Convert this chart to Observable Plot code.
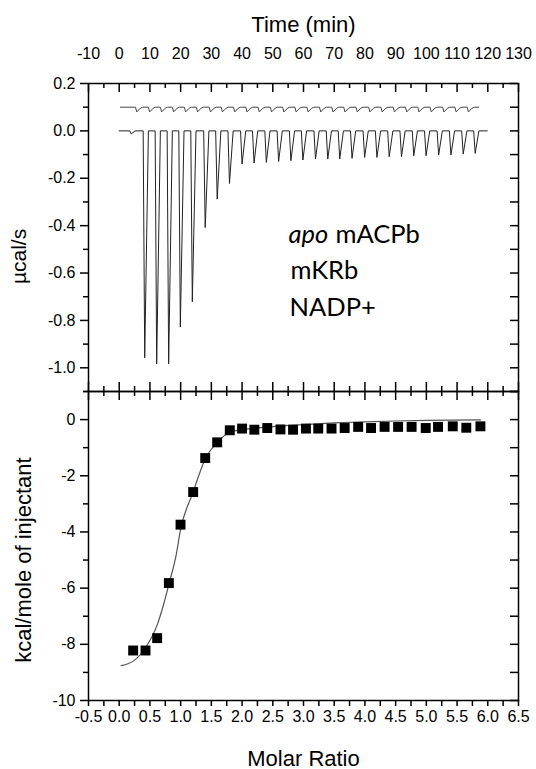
<!DOCTYPE html>
<html>
<head>
<meta charset="utf-8">
<script src="https://cdn.jsdelivr.net/npm/d3@7"></script>
<script src="https://cdn.jsdelivr.net/npm/@observablehq/plot@0.6"></script>
<style>
  html, body { margin: 0; padding: 0; background: white; }
  #chart { position: relative; width: 536px; height: 769px; }
  #chart svg { position: absolute; left: 0; }
</style>
</head>
<body>
<div id="chart"></div>
<script>
// ---------- Data ----------
// Top panel: raw titration trace (µcal/s vs time, min)
const injTimes = [3.45, 7.8, 11.7, 15.6, 19.4, 23.3, 27.5, 31.4, 35.4, 39.5, 43.4, 47.4, 51.4, 55.4, 59.3,
  63.4, 67.4, 71.3, 75.3, 79.4, 83.4, 87.4, 91.4, 95.4, 99.4, 103.5, 107.5, 111.5, 115.4];
const peakDepths = [-0.013, -0.958, -0.983, -0.983, -0.828, -0.721, -0.408, -0.288, -0.222, -0.14, -0.136,
  -0.133, -0.129, -0.126, -0.123, -0.119, -0.119, -0.119, -0.116, -0.112, -0.112, -0.109, -0.109, -0.105,
  -0.105, -0.102, -0.102, -0.098, -0.095];
const traceStart = 0, traceEnd = 119.8;

// control (offset) trace
const controlTimes = [5.3, 9.5, 13.4, 17.3, 21.2, 25.1, 29.3, 33.2, 37.2, 41.2, 45.2, 49.2, 53.2, 57.2, 61.1,
  65.2, 69.2, 73.1, 77.1, 81.2, 85.2, 89.2, 93.2, 97.2, 101.2, 105.3, 109.3, 113.3];
const controlLevel = 0.100;
const controlDip = 0.080;
const controlStart = 0.4, controlEnd = 117;

// Bottom panel: integrated heats
const molarRatio = [0.227, 0.428, 0.618, 0.808, 0.998, 1.204, 1.40, 1.595, 1.80, 2.0, 2.20, 2.41, 2.625, 2.83,
  3.04, 3.24, 3.456, 3.67, 3.89, 4.10, 4.32, 4.54, 4.76, 4.99, 5.19, 5.43, 5.65, 5.88];
const heat = [-8.22, -8.22, -7.78, -5.82, -3.74, -2.58, -1.37, -0.81, -0.38, -0.32, -0.36, -0.30, -0.35, -0.36,
  -0.32, -0.32, -0.32, -0.30, -0.26, -0.30, -0.26, -0.26, -0.26, -0.30, -0.26, -0.24, -0.29, -0.24];

// fitted curve
const fitRatio = [0.03, 0.24, 0.45, 0.62, 0.72, 0.81, 0.92, 1.0, 1.2, 1.4, 1.6, 1.8, 2.0, 2.4, 3.0, 3.5, 4.0, 4.5, 5.0, 5.88];
const fitHeat = [-8.76, -8.58, -8.05, -7.3, -6.6, -5.85, -4.9, -3.9, -2.6, -1.4, -0.8, -0.45, -0.36, -0.27, -0.18,
  -0.12, -0.08, -0.05, -0.03, -0.01];

// Tick values / labels
const timeMajor = [-10, 0, 10, 20, 30, 40, 50, 60, 70, 80, 90, 100, 110, 120, 130];
const timeMinor = [-5, 5, 15, 25, 35, 45, 55, 65, 75, 85, 95, 105, 115, 125];
const fluxMajor = [-1.0, -0.8, -0.6, -0.4, -0.2, 0.0, 0.2];
const fluxMinor = [-1.1, -0.9, -0.7, -0.5, -0.3, -0.1, 0.1];
const ratioMajor = [-0.5, 0.0, 0.5, 1.0, 1.5, 2.0, 2.5, 3.0, 3.5, 4.0, 4.5, 5.0, 5.5, 6.0, 6.5];
const ratioMinor = [-0.25, 0.25, 0.75, 1.25, 1.75, 2.25, 2.75, 3.25, 3.75, 4.25, 4.75, 5.25, 5.75, 6.25];
const heatMajor = [-10, -8, -6, -4, -2, 0];
const heatMinor = [-9, -7, -5, -3, -1, 1];

const topTitle = "Time (min)";
const topYLabel = "µcal/s";
const bottomXLabel = "Molar Ratio";
const bottomYLabel = "kcal/mole of injectant";

// ---------- Build line tables ----------
const lowerTrace = [{t: traceStart, v: 0}];
injTimes.forEach((t, i) => {
  lowerTrace.push({t, v: 0}, {t: t + 0.5, v: peakDepths[i]}, {t: t + 1.7, v: 0});
});
lowerTrace.push({t: traceEnd, v: 0});

const upperTrace = [{t: controlStart, v: controlLevel}];
controlTimes.forEach(t => {
  upperTrace.push({t, v: controlLevel}, {t: t + 0.4, v: controlDip}, {t: t + 1.6, v: controlLevel - 0.004}, {t: t + 2.3, v: controlLevel});
});
upperTrace.push({t: controlEnd, v: controlLevel});

const points = molarRatio.map((r, i) => ({r, h: heat[i]}));
const fit = fitRatio.map((r, i) => ({r, h: fitHeat[i]}));

const FONT = "'Liberation Sans', Arial, Helvetica, sans-serif";
const W = 536, ML = 88, MR = 18;
const innerW = W - ML - MR;

// ---------- Top panel ----------
const topH = 392, topMT = 83, topMB = 1;
const topInner = topH - topMT - topMB;
const topPlot = Plot.plot({
  width: W, height: topH,
  marginTop: topMT, marginBottom: topMB, marginLeft: ML, marginRight: MR,
  x: {domain: [-10, 130], label: null},
  y: {domain: [-1.1, 0.2], label: null},
  style: {background: "transparent", fontFamily: FONT, color: "black", overflow: "visible"},
  marks: [
    Plot.line(upperTrace, {x: "t", y: "v", stroke: "#444", strokeWidth: 1}),
    Plot.line(lowerTrace, {x: "t", y: "v", stroke: "#222", strokeWidth: 1}),
    // top axis labels (ticks drawn inward separately)
    Plot.axisX({anchor: "top", ticks: timeMajor, tickSize: 0, tickPadding: 25, fontSize: 16,
      tickFormat: d => String(d), label: null}),
    Plot.tickX(timeMajor, {x: d => d, insetBottom: topInner - 9, stroke: "black", strokeWidth: 1.5}),
    Plot.tickX(timeMinor, {x: d => d, insetBottom: topInner - 5, stroke: "black", strokeWidth: 1.5}),
    Plot.tickX(timeMajor, {x: d => d, insetTop: topInner - 9, stroke: "black", strokeWidth: 1.5}),
    Plot.tickX(timeMinor, {x: d => d, insetTop: topInner - 5, stroke: "black", strokeWidth: 1.5}),
    // left axis
    Plot.axisY({anchor: "left", ticks: fluxMajor, tickSize: 8, tickPadding: 5, fontSize: 16, strokeWidth: 1.5,
      tickFormat: d => d.toFixed(1), label: null}),
    Plot.axisY({anchor: "left", ticks: fluxMinor, tickSize: 5, strokeWidth: 1.5, tickFormat: () => "", label: null}),
    // right inward ticks
    Plot.tickY(fluxMajor, {y: d => d, insetLeft: innerW - 8, stroke: "black", strokeWidth: 1.5}),
    Plot.tickY(fluxMinor, {y: d => d, insetLeft: innerW - 8, stroke: "black", strokeWidth: 1.5}),
    Plot.frame({stroke: "black", strokeWidth: 1.5}),
    // titles
    Plot.text([topTitle], {frameAnchor: "top", dy: -52, lineAnchor: "bottom", fontSize: 22, fill: "black"}),
    Plot.text([topYLabel], {frameAnchor: "left", y: [-0.53], dx: -63, rotate: -90, lineAnchor: "bottom",
      textAnchor: "middle", fontSize: 21, fill: "black"}),
    // annotation
    Plot.text(["apo"], {frameAnchor: "top-left", dx: 200, dy: 159.3, lineAnchor: "bottom", textAnchor: "start",
      fontSize: 25.5, fontStyle: "italic", fontFamily: "Lato, 'Open Sans', sans-serif", fill: "black"}),
    Plot.text(["mACPb"], {frameAnchor: "top-left", dx: 247, dy: 159.3, lineAnchor: "bottom", textAnchor: "start",
      fontSize: 25.5, fontFamily: "Lato, 'Open Sans', sans-serif", fill: "black"}),
    Plot.text(["mKRb"], {frameAnchor: "top-left", dx: 202, dy: 195.3, lineAnchor: "bottom", textAnchor: "start",
      fontSize: 25.5, fontFamily: "Lato, 'Open Sans', sans-serif", fill: "black"}),
    Plot.text(["NADP+"], {frameAnchor: "top-left", dx: 201, dy: 232, lineAnchor: "bottom", textAnchor: "start",
      fontSize: 25.5, fontFamily: "Lato, 'Open Sans', sans-serif", fill: "black"})
  ]
});
topPlot.style.top = "0px";

// ---------- Bottom panel ----------
const botH = 379, botMT = 1, botMB = 69;
const botInner = botH - botMT - botMB;
const botPlot = Plot.plot({
  width: W, height: botH,
  marginTop: botMT, marginBottom: botMB, marginLeft: ML, marginRight: MR,
  x: {domain: [-0.5, 6.5], label: null},
  y: {domain: [-10, 1], label: null},
  style: {background: "transparent", fontFamily: FONT, color: "black", overflow: "visible"},
  marks: [
    Plot.line(fit, {x: "r", y: "h", stroke: "#555", strokeWidth: 1.2, curve: "monotone-x"}),
    Plot.dot(points, {x: "r", y: "h", symbol: "square", r: 5.6, fill: "black", stroke: "none"}),
    // bottom axis
    Plot.axisX({anchor: "bottom", ticks: ratioMajor, tickSize: 6, tickPadding: 4, fontSize: 16, strokeWidth: 1.5,
      tickFormat: d => d.toFixed(1), label: null}),
    Plot.axisX({anchor: "bottom", ticks: ratioMinor, tickSize: 6, strokeWidth: 1.5, tickFormat: () => "", label: null}),
    // top inward ticks
    Plot.tickX(ratioMajor, {x: d => d, insetBottom: botInner - 9, stroke: "black", strokeWidth: 1.5}),
    Plot.tickX(ratioMinor, {x: d => d, insetBottom: botInner - 5, stroke: "black", strokeWidth: 1.5}),
    // left axis
    Plot.axisY({anchor: "left", ticks: heatMajor, tickSize: 8, tickPadding: 5, fontSize: 16, strokeWidth: 1.5,
      tickFormat: d => String(d), label: null}),
    Plot.axisY({anchor: "left", ticks: heatMinor, tickSize: 5, strokeWidth: 1.5, tickFormat: () => "", label: null}),
    // right inward ticks
    Plot.tickY(heatMajor, {y: d => d, insetLeft: innerW - 8, stroke: "black", strokeWidth: 1.5}),
    Plot.tickY(heatMinor, {y: d => d, insetLeft: innerW - 8, stroke: "black", strokeWidth: 1.5}),
    Plot.frame({stroke: "black", strokeWidth: 1.5}),
    Plot.text([bottomXLabel], {frameAnchor: "bottom", dy: 65, lineAnchor: "bottom", fontSize: 22, fill: "black"}),
    Plot.text([bottomYLabel], {frameAnchor: "left", y: [-5.0], dx: -58, rotate: -90, lineAnchor: "bottom",
      textAnchor: "middle", fontSize: 22, fill: "black"})
  ]
});
botPlot.style.top = "390px";

const chart = document.getElementById("chart");
chart.appendChild(topPlot);
chart.appendChild(botPlot);
</script>
</body>
</html>
